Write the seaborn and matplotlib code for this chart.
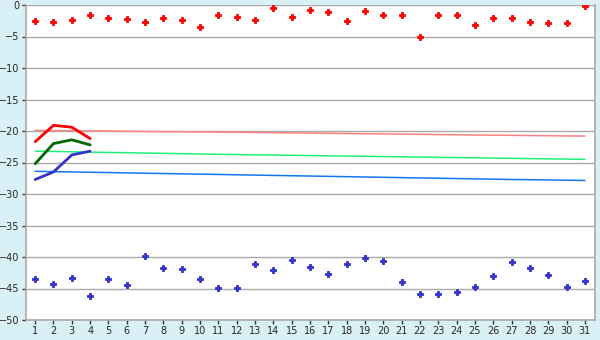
import numpy as np
import pandas as pd
import matplotlib
matplotlib.use("Agg")
import matplotlib.pyplot as plt
import seaborn as sns

days = list(range(1, 32))

# daily extreme points
max_points = [-2.6, -2.75, -2.4, -1.6, -2.1, -2.3, -2.75, -2.1, -2.4, -3.5,
              -1.6, -1.95, -2.4, -0.5, -1.95, -0.85, -1.15, -2.6, -1.0, -1.6,
              -1.6, -5.0, -1.6, -1.6, -3.2, -2.1, -2.1, -2.75, -2.9, -2.9, -0.2]
min_points = [-43.5, -44.3, -43.3, -46.2, -43.5, -44.4, -39.8, -41.7, -41.9, -43.5,
              -44.9, -44.9, -41.1, -42.0, -40.5, -41.6, -42.7, -41.1, -40.1, -40.6,
              -43.9, -45.8, -45.8, -45.5, -44.7, -43.0, -40.8, -41.7, -42.9, -44.7, -43.8]

# actual temperatures (first 4 days)
cur_days = [1, 2, 3, 4]
cur_max = [-21.7, -19.1, -19.4, -21.2]
cur_mean = [-25.2, -22.0, -21.4, -22.2]
cur_min = [-27.7, -26.5, -23.8, -23.2]

# normals
norm_max = [-19.9, -19.93, -19.96, -19.99, -20.0, -20.05, -20.08, -20.1, -20.12, -20.15,
            -20.18, -20.2, -20.23, -20.26, -20.3, -20.33, -20.36, -20.4, -20.43, -20.46,
            -20.5, -20.53, -20.56, -20.6, -20.63, -20.66, -20.69, -20.72, -20.75, -20.78, -20.8]
norm_mean = [-23.2, -23.25, -23.3, -23.35, -23.4, -23.45, -23.5, -23.55, -23.6, -23.65,
             -23.7, -23.74, -23.78, -23.82, -23.86, -23.9, -23.94, -23.98, -24.02, -24.06,
             -24.1, -24.14, -24.18, -24.22, -24.26, -24.3, -24.34, -24.38, -24.42, -24.46, -24.5]
norm_min = [-26.4, -26.45, -26.5, -26.55, -26.6, -26.65, -26.7, -26.75, -26.8, -26.85,
            -26.9, -26.95, -27.0, -27.05, -27.1, -27.15, -27.2, -27.25, -27.3, -27.35,
            -27.4, -27.45, -27.5, -27.55, -27.6, -27.65, -27.7, -27.73, -27.77, -27.81, -27.85]

y_ticks = list(range(-50, 1, 5))

sns.set_theme(style="white")
plt.rcParams['font.family'] = ['DejaVu Sans']

fig = plt.figure(figsize=(6, 3.4), dpi=100, facecolor="#DAF0F7")
ax = fig.add_axes([26 / 600, 1 - 320 / 340, (595 - 26) / 600, (320 - 5) / 340])
ax.set_facecolor("white")

for v in y_ticks:
    ax.axhline(v, color="#AAAAAA", lw=1, zorder=0)

df_norm = pd.DataFrame({"day": days, "nmax": norm_max, "nmean": norm_mean, "nmin": norm_min})
sns.lineplot(data=df_norm, x="day", y="nmax", color="#FF8080", lw=1.1, ax=ax)
sns.lineplot(data=df_norm, x="day", y="nmean", color="#22EE77", lw=1.1, ax=ax)
sns.lineplot(data=df_norm, x="day", y="nmin", color="#1177EE", lw=1.1, ax=ax)

df_cur = pd.DataFrame({"day": cur_days, "cmax": cur_max, "cmean": cur_mean, "cmin": cur_min})
sns.lineplot(data=df_cur, x="day", y="cmax", color="#FF0000", lw=2, ax=ax)
sns.lineplot(data=df_cur, x="day", y="cmean", color="#006600", lw=2, ax=ax)
sns.lineplot(data=df_cur, x="day", y="cmin", color="#3333CC", lw=2, ax=ax)

df_pts = pd.DataFrame({"day": days, "pmax": max_points, "pmin": min_points})
sns.scatterplot(data=df_pts, x="day", y="pmax", color="#FF0000", marker="P", s=20,
                edgecolor="#FF0000", linewidth=0.6, ax=ax)
sns.scatterplot(data=df_pts, x="day", y="pmin", color="#3333CC", marker="P", s=20,
                edgecolor="#3333CC", linewidth=0.6, ax=ax)

ax.set_xlim(0.5, 31.55)
ax.set_ylim(-50, 0)
ax.set_xticks(days)
ax.set_xticklabels([str(d) for d in days])
ax.set_yticks(y_ticks)
ax.set_yticklabels([str(v).replace("-", "\u2212") for v in y_ticks])
ax.set_xlabel("")
ax.set_ylabel("")
ax.tick_params(axis="both", which="both", direction="out", length=3, width=1,
               color="#333333", labelsize=7, pad=1.5, left=True, bottom=True)
for side in ["top"]:
    ax.spines[side].set_visible(False)
for side in ["left", "bottom", "right"]:
    ax.spines[side].set_visible(True)
    ax.spines[side].set_color("#AAAAAA")
    ax.spines[side].set_linewidth(1.2)

fig.savefig("out.png", dpi=100, facecolor=fig.get_facecolor())
